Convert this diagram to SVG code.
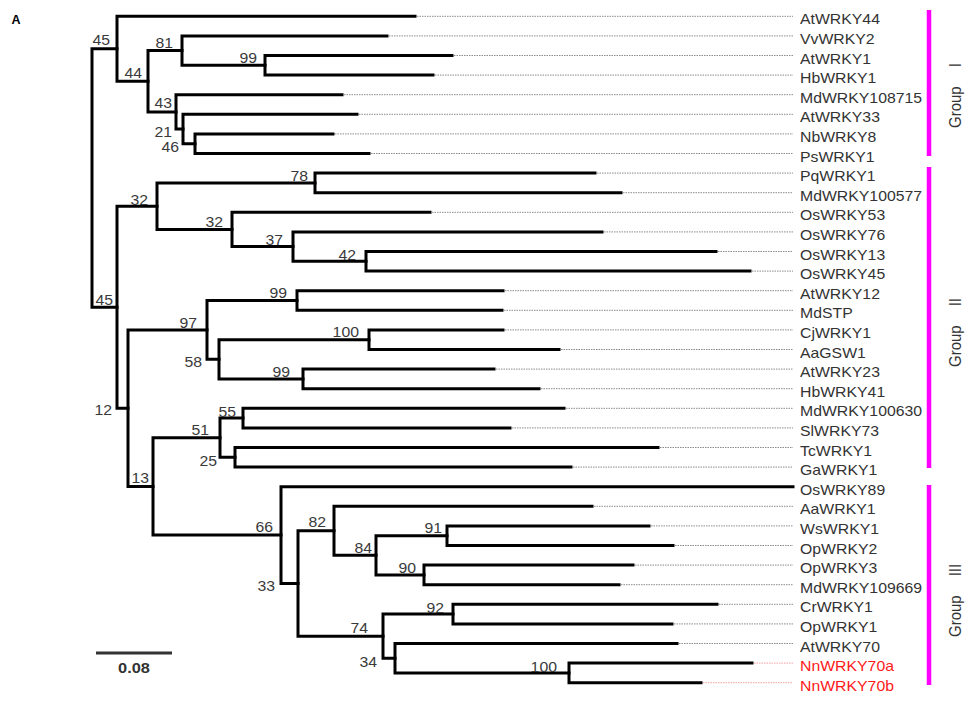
<svg xmlns="http://www.w3.org/2000/svg" width="974" height="712" viewBox="0 0 974 712">
<style>
.br{fill:none;stroke:#000;stroke-width:3;stroke-linecap:square;stroke-linejoin:miter}
.dot{stroke:#8a8a8a;stroke-width:1;stroke-dasharray:1.5 1}
.dotr{stroke:#f4a0a0;stroke-width:1;stroke-dasharray:1.5 1}
.t{font-family:"Liberation Sans",Arial,sans-serif;font-size:14px;fill:#333}
.bs{font-family:"Liberation Sans",Arial,sans-serif;font-size:14px;fill:#3a3a3a;text-anchor:end}
.red{fill:#ff1a1a}
.bar{stroke:#ff00ff;stroke-width:4.5}
.grp{font-family:"Liberation Sans",Arial,sans-serif;font-size:15px;fill:#333}
</style>
<rect width="974" height="712" fill="#fff"/>
<text x="11.5" y="24" font-family="Liberation Sans,Arial,sans-serif" font-size="12.5" font-weight="bold" fill="#000">A</text>

<g id="connectors">
<path class="br" d="M117 48.8 H92 V307.2 H117"/>
<path class="br" d="M415 16.3 H117 V81.3 H148"/>
<path class="br" d="M182 50.6 H148 V111.9 H176"/>
<path class="br" d="M387 35.9 H182 V65.3 H265"/>
<path class="br" d="M452 55.5 H265 V75.1 H433"/>
<path class="br" d="M342 94.7 H176 V129 H183"/>
<path class="br" d="M357 114.3 H183 V143.7 H195"/>
<path class="br" d="M333 133.9 H195 V153.5 H369"/>
<path class="br" d="M157 206.2 H117 V408.2 H128"/>
<path class="br" d="M315 182.9 H157 V229.5 H232"/>
<path class="br" d="M595 173.1 H315 V192.7 H621"/>
<path class="br" d="M430 212.3 H232 V246.6 H293"/>
<path class="br" d="M602 231.9 H293 V261.3 H366"/>
<path class="br" d="M716 251.5 H366 V271.1 H750"/>
<path class="br" d="M207 329.9 H128 V486.4 H153"/>
<path class="br" d="M297 300.5 H207 V359.3 H219"/>
<path class="br" d="M503 290.7 H297 V310.3 H502"/>
<path class="br" d="M369 339.7 H219 V378.9 H303"/>
<path class="br" d="M503 329.9 H369 V349.5 H559"/>
<path class="br" d="M494 369.1 H303 V388.7 H539"/>
<path class="br" d="M220 437.7 H153 V535.1 H281"/>
<path class="br" d="M243 418.1 H220 V457.3 H235"/>
<path class="br" d="M564 408.3 H243 V427.9 H510"/>
<path class="br" d="M658 447.5 H235 V467.1 H571"/>
<path class="br" d="M793 486.7 H281 V583.5 H298"/>
<path class="br" d="M334 530.8 H298 V636.2 H383"/>
<path class="br" d="M592 506.3 H334 V555.3 H376"/>
<path class="br" d="M447 535.7 H376 V574.9 H424"/>
<path class="br" d="M649 525.9 H447 V545.5 H673"/>
<path class="br" d="M633 565.1 H424 V584.7 H619"/>
<path class="br" d="M453 614.1 H383 V658.2 H395"/>
<path class="br" d="M717 604.3 H453 V623.9 H672"/>
<path class="br" d="M677 643.5 H395 V672.9 H569"/>
<path class="br" d="M752 663.1 H569 V682.7 H701"/>
<g>
<line class="dot" x1="417" y1="16.3" x2="793" y2="16.3"/>
<line class="dot" x1="389" y1="35.9" x2="793" y2="35.9"/>
<line class="dot" x1="454" y1="55.5" x2="793" y2="55.5"/>
<line class="dot" x1="435" y1="75.1" x2="793" y2="75.1"/>
<line class="dot" x1="344" y1="94.7" x2="793" y2="94.7"/>
<line class="dot" x1="359" y1="114.3" x2="793" y2="114.3"/>
<line class="dot" x1="335" y1="133.9" x2="793" y2="133.9"/>
<line class="dot" x1="371" y1="153.5" x2="793" y2="153.5"/>
<line class="dot" x1="597" y1="173.1" x2="793" y2="173.1"/>
<line class="dot" x1="623" y1="192.7" x2="793" y2="192.7"/>
<line class="dot" x1="432" y1="212.3" x2="793" y2="212.3"/>
<line class="dot" x1="604" y1="231.9" x2="793" y2="231.9"/>
<line class="dot" x1="718" y1="251.5" x2="793" y2="251.5"/>
<line class="dot" x1="752" y1="271.1" x2="793" y2="271.1"/>
<line class="dot" x1="505" y1="290.7" x2="793" y2="290.7"/>
<line class="dot" x1="504" y1="310.3" x2="793" y2="310.3"/>
<line class="dot" x1="505" y1="329.9" x2="793" y2="329.9"/>
<line class="dot" x1="561" y1="349.5" x2="793" y2="349.5"/>
<line class="dot" x1="496" y1="369.1" x2="793" y2="369.1"/>
<line class="dot" x1="541" y1="388.7" x2="793" y2="388.7"/>
<line class="dot" x1="566" y1="408.3" x2="793" y2="408.3"/>
<line class="dot" x1="512" y1="427.9" x2="793" y2="427.9"/>
<line class="dot" x1="660" y1="447.5" x2="793" y2="447.5"/>
<line class="dot" x1="573" y1="467.1" x2="793" y2="467.1"/>
<line class="dot" x1="594" y1="506.3" x2="793" y2="506.3"/>
<line class="dot" x1="651" y1="525.9" x2="793" y2="525.9"/>
<line class="dot" x1="675" y1="545.5" x2="793" y2="545.5"/>
<line class="dot" x1="635" y1="565.1" x2="793" y2="565.1"/>
<line class="dot" x1="621" y1="584.7" x2="793" y2="584.7"/>
<line class="dot" x1="719" y1="604.3" x2="793" y2="604.3"/>
<line class="dot" x1="674" y1="623.9" x2="793" y2="623.9"/>
<line class="dot" x1="679" y1="643.5" x2="793" y2="643.5"/>
<line class="dotr" x1="754" y1="663.1" x2="793" y2="663.1"/>
<line class="dotr" x1="703" y1="682.7" x2="793" y2="682.7"/>
</g>
</g>

<g id="leaves">
<g id="leaf-AtWRKY44"><text class="t" transform="translate(800 24.3) scale(1.13 1)">AtWRKY44</text></g>
<g id="leaf-VvWRKY2"><text class="t" transform="translate(800 43.9) scale(1.13 1)">VvWRKY2</text></g>
<g id="leaf-AtWRKY1"><text class="t" transform="translate(800 63.5) scale(1.13 1)">AtWRKY1</text></g>
<g id="leaf-HbWRKY1"><text class="t" transform="translate(800 83.1) scale(1.13 1)">HbWRKY1</text></g>
<g id="leaf-MdWRKY108715"><text class="t" transform="translate(800 102.7) scale(1.13 1)">MdWRKY108715</text></g>
<g id="leaf-AtWRKY33"><text class="t" transform="translate(800 122.3) scale(1.13 1)">AtWRKY33</text></g>
<g id="leaf-NbWRKY8"><text class="t" transform="translate(800 141.9) scale(1.13 1)">NbWRKY8</text></g>
<g id="leaf-PsWRKY1"><text class="t" transform="translate(800 161.5) scale(1.13 1)">PsWRKY1</text></g>
<g id="leaf-PqWRKY1"><text class="t" transform="translate(800 181.1) scale(1.13 1)">PqWRKY1</text></g>
<g id="leaf-MdWRKY100577"><text class="t" transform="translate(800 200.7) scale(1.13 1)">MdWRKY100577</text></g>
<g id="leaf-OsWRKY53"><text class="t" transform="translate(800 220.3) scale(1.13 1)">OsWRKY53</text></g>
<g id="leaf-OsWRKY76"><text class="t" transform="translate(800 239.9) scale(1.13 1)">OsWRKY76</text></g>
<g id="leaf-OsWRKY13"><text class="t" transform="translate(800 259.5) scale(1.13 1)">OsWRKY13</text></g>
<g id="leaf-OsWRKY45"><text class="t" transform="translate(800 279.1) scale(1.13 1)">OsWRKY45</text></g>
<g id="leaf-AtWRKY12"><text class="t" transform="translate(800 298.7) scale(1.13 1)">AtWRKY12</text></g>
<g id="leaf-MdSTP"><text class="t" transform="translate(800 318.3) scale(1.13 1)">MdSTP</text></g>
<g id="leaf-CjWRKY1"><text class="t" transform="translate(800 337.9) scale(1.13 1)">CjWRKY1</text></g>
<g id="leaf-AaGSW1"><text class="t" transform="translate(800 357.5) scale(1.13 1)">AaGSW1</text></g>
<g id="leaf-AtWRKY23"><text class="t" transform="translate(800 377.1) scale(1.13 1)">AtWRKY23</text></g>
<g id="leaf-HbWRKY41"><text class="t" transform="translate(800 396.7) scale(1.13 1)">HbWRKY41</text></g>
<g id="leaf-MdWRKY100630"><text class="t" transform="translate(800 416.3) scale(1.13 1)">MdWRKY100630</text></g>
<g id="leaf-SlWRKY73"><text class="t" transform="translate(800 435.9) scale(1.13 1)">SlWRKY73</text></g>
<g id="leaf-TcWRKY1"><text class="t" transform="translate(800 455.5) scale(1.13 1)">TcWRKY1</text></g>
<g id="leaf-GaWRKY1"><text class="t" transform="translate(800 475.1) scale(1.13 1)">GaWRKY1</text></g>
<g id="leaf-OsWRKY89"><text class="t" transform="translate(800 494.7) scale(1.13 1)">OsWRKY89</text></g>
<g id="leaf-AaWRKY1"><text class="t" transform="translate(800 514.3) scale(1.13 1)">AaWRKY1</text></g>
<g id="leaf-WsWRKY1"><text class="t" transform="translate(800 533.9) scale(1.13 1)">WsWRKY1</text></g>
<g id="leaf-OpWRKY2"><text class="t" transform="translate(800 553.5) scale(1.13 1)">OpWRKY2</text></g>
<g id="leaf-OpWRKY3"><text class="t" transform="translate(800 573.1) scale(1.13 1)">OpWRKY3</text></g>
<g id="leaf-MdWRKY109669"><text class="t" transform="translate(800 592.7) scale(1.13 1)">MdWRKY109669</text></g>
<g id="leaf-CrWRKY1"><text class="t" transform="translate(800 612.3) scale(1.13 1)">CrWRKY1</text></g>
<g id="leaf-OpWRKY1"><text class="t" transform="translate(800 631.9) scale(1.13 1)">OpWRKY1</text></g>
<g id="leaf-AtWRKY70"><text class="t" transform="translate(800 651.5) scale(1.13 1)">AtWRKY70</text></g>
<g id="leaf-NnWRKY70a"><text class="t red" transform="translate(800 671.1) scale(1.13 1)">NnWRKY70a</text></g>
<g id="leaf-NnWRKY70b"><text class="t red" transform="translate(800 690.7) scale(1.13 1)">NnWRKY70b</text></g>
</g>

<g id="bootstrap">
<g id="n45a"><text class="bs" transform="translate(110 45) scale(1.13 1)">45</text></g>
<g id="n44"><text class="bs" transform="translate(142 78) scale(1.13 1)">44</text></g>
<g id="n81"><text class="bs" transform="translate(173 48) scale(1.13 1)">81</text></g>
<g id="n99a"><text class="bs" transform="translate(257 63) scale(1.13 1)">99</text></g>
<g id="n43"><text class="bs" transform="translate(172 108) scale(1.13 1)">43</text></g>
<g id="n21"><text class="bs" transform="translate(172 137) scale(1.13 1)">21</text></g>
<g id="n46"><text class="bs" transform="translate(179 152) scale(1.13 1)">46</text></g>
<g id="n78"><text class="bs" transform="translate(308 181) scale(1.13 1)">78</text></g>
<g id="n32a"><text class="bs" transform="translate(148 205) scale(1.13 1)">32</text></g>
<g id="n32b"><text class="bs" transform="translate(223 227) scale(1.13 1)">32</text></g>
<g id="n37"><text class="bs" transform="translate(283 245) scale(1.13 1)">37</text></g>
<g id="n42"><text class="bs" transform="translate(356 260) scale(1.13 1)">42</text></g>
<g id="n45b"><text class="bs" transform="translate(113 305) scale(1.13 1)">45</text></g>
<g id="n99b"><text class="bs" transform="translate(287 298) scale(1.13 1)">99</text></g>
<g id="n97"><text class="bs" transform="translate(197 328) scale(1.13 1)">97</text></g>
<g id="n100a"><text class="bs" transform="translate(359 337) scale(1.13 1)">100</text></g>
<g id="n58"><text class="bs" transform="translate(202 367) scale(1.13 1)">58</text></g>
<g id="n99c"><text class="bs" transform="translate(290 377) scale(1.13 1)">99</text></g>
<g id="n12"><text class="bs" transform="translate(112 415) scale(1.13 1)">12</text></g>
<g id="n55"><text class="bs" transform="translate(236 417) scale(1.13 1)">55</text></g>
<g id="n51"><text class="bs" transform="translate(209 435) scale(1.13 1)">51</text></g>
<g id="n25"><text class="bs" transform="translate(217 466) scale(1.13 1)">25</text></g>
<g id="n13"><text class="bs" transform="translate(149 483) scale(1.13 1)">13</text></g>
<g id="n66"><text class="bs" transform="translate(273 532) scale(1.13 1)">66</text></g>
<g id="n82"><text class="bs" transform="translate(326 527) scale(1.13 1)">82</text></g>
<g id="n91"><text class="bs" transform="translate(442 533) scale(1.13 1)">91</text></g>
<g id="n84"><text class="bs" transform="translate(372 553) scale(1.13 1)">84</text></g>
<g id="n90"><text class="bs" transform="translate(416 573) scale(1.13 1)">90</text></g>
<g id="n33"><text class="bs" transform="translate(275 591) scale(1.13 1)">33</text></g>
<g id="n92"><text class="bs" transform="translate(444 613) scale(1.13 1)">92</text></g>
<g id="n74"><text class="bs" transform="translate(368 633) scale(1.13 1)">74</text></g>
<g id="n34"><text class="bs" transform="translate(377 667) scale(1.13 1)">34</text></g>
<g id="n100b"><text class="bs" transform="translate(557 672) scale(1.13 1)">100</text></g>
</g>

<g id="groups">
<g id="group1"><line class="bar" x1="929" y1="10" x2="929" y2="156"/><text class="grp" transform="translate(961 128) scale(1.13 1) rotate(-90)">Group<tspan dx="19">I</tspan></text></g>
<g id="group2"><line class="bar" x1="929" y1="167" x2="929" y2="468"/><text class="grp" transform="translate(961 367) scale(1.13 1) rotate(-90)">Group<tspan dx="19">II</tspan></text></g>
<g id="group3"><line class="bar" x1="929" y1="485" x2="929" y2="685"/><text class="grp" transform="translate(961 637) scale(1.13 1) rotate(-90)">Group<tspan dx="19">III</tspan></text></g>
</g>

<g id="scalebar">
<line x1="96" y1="653" x2="172" y2="653" stroke="#333" stroke-width="3"/>
<text transform="translate(134 673) scale(1.13 1)" text-anchor="middle" font-family="Liberation Sans,Arial,sans-serif" font-size="14.5" font-weight="bold" fill="#333">0.08</text>
</g>
</svg>
